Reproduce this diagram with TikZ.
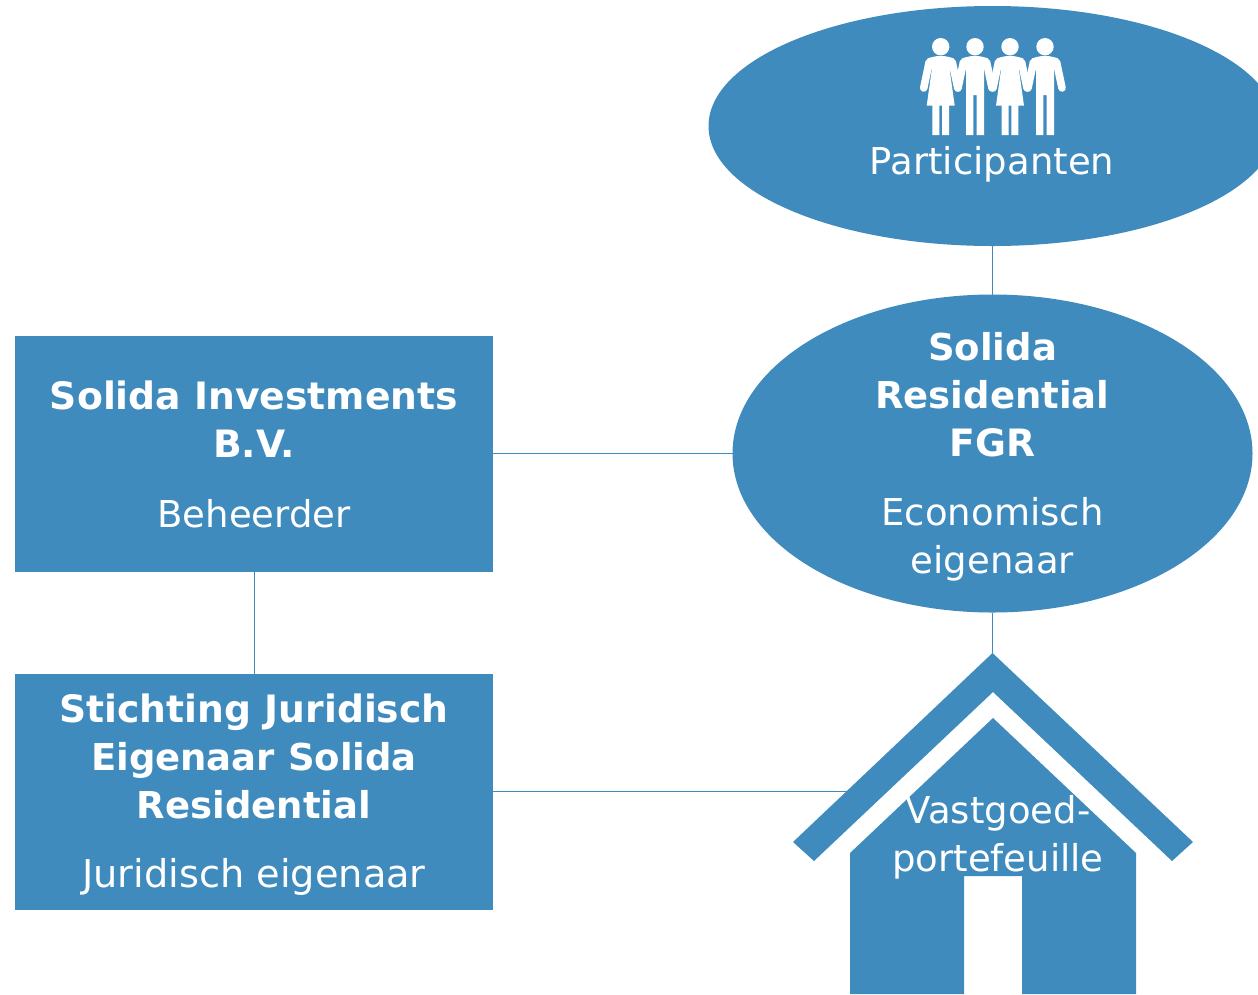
\documentclass[tikz,border=0pt]{standalone}
\usepackage{fontspec}
\setmainfont{DejaVu Sans}
\usetikzlibrary{shapes.geometric}
\definecolor{solblue}{RGB}{63,139,189}
\newcommand{\hd}[1]{{\fontsize{37.7}{48}\selectfont\bfseries #1}}
\newcommand{\hdn}[1]{{\fontsize{37}{48}\selectfont\bfseries #1}}
\tikzset{
  x=1pt,y=-1pt,
  shapefill/.style={fill=solblue,draw=none,inner sep=0pt,outer sep=0pt},
  ell/.style={shapefill,ellipse},
  boxnode/.style={shapefill,rectangle,minimum width=478pt},
  lbl/.style={text=white,align=center,inner sep=0pt,font=\fontsize{37}{48}\selectfont},
  link/.style={draw=solblue,line width=1pt},
  limb/.style={draw=white,line width=7.6pt,line cap=round,line join=round},
  woman/.pic={
    \fill[white] (0,46.7) circle (8.7);
    \draw[limb] (-10,61.5) -- (-11.5,62) -- (-17,88);
    \draw[limb] (10,61.5) -- (11.5,62) -- (17,88);
    \fill[white] (-13,58.5) to[out=20,in=160] (13,58.5) -- (9,70) -- (14,105.7) -- (8.3,105.7) -- (8.3,135) -- (1.3,135) -- (1.3,105.7) -- (-1.3,105.7) -- (-1.3,135) -- (-8.3,135) -- (-8.3,105.7) -- (-14,105.7) -- (-9,70) -- cycle;
  },
  man/.pic={
    \fill[white] (0,46.7) circle (8.7);
    \draw[limb] (-10,61.5) -- (-11.5,62) -- (-17,88);
    \draw[limb] (10,61.5) -- (11.5,62) -- (17,88);
    \fill[white] (-13,58.5) to[out=20,in=160] (13,58.5) -- (9,70) -- (9,135) -- (1.7,135) -- (1.7,95) -- (-1.7,95) -- (-1.7,135) -- (-9,135) -- (-9,70) -- cycle;
  },
}
\begin{document}
\begin{tikzpicture}
\useasboundingbox (0,0) rectangle (1258,994);
% shapes
\node[ell,minimum width=568pt,minimum height=240pt] (part) at (992.5,126) {};
\node[ell,minimum width=520pt,minimum height=318pt] (fgr) at (992.5,453.5) {};
\node[boxnode,minimum height=236pt] (inv) at (254,454) {};
\node[boxnode,minimum height=236pt] (jur) at (254,791.5) {};
\coordinate (roof) at (992.5,653);
\coordinate (roofleft) at (848,791.5);
% connectors
\draw[link] (part.south) -- (fgr.north);
\draw[link] (fgr.south) -- (roof);
\draw[link] (inv.east |- fgr.west) -- (fgr.west);
\draw[link] (inv.south) -- (jur.north);
\draw[link] (jur.east) -- (roofleft);
% house
\fill[solblue] (roof) -- (1193,842) -- (1172,861) -- (993,692) -- (814,861) -- (793,842) -- cycle;
\fill[solblue] (993,718) -- (1136,853) -- (1136,994) -- (1022,994) -- (1022,876) -- (964,876) -- (964,994) -- (850,994) -- (850,853) -- cycle;
% people
\pic at (940.7,0) {woman};
\pic at (975,0) {man};
\pic at (1010,0) {woman};
\pic at (1045,0) {man};
% labels
\node[lbl] (partlabel) at (992,164) {Participanten};
\node[lbl] (fgrlabel) at (992.5,457) {\hdn{Solida}\\\hdn{Residential}\\\hd{FGR}\\[21pt]Economisch\\eigenaar};
\node[lbl] (invlabel) at (254,454) {\hd{Solida Investments}\\\hd{B.V.}\\[22pt]Beheerder};
\node[lbl] (jurlabel) at (254,795) {\hd{Stichting Juridisch}\\\hdn{Eigenaar Solida}\\\hdn{Residential}\\[21pt]{\fontsize{38.3}{48}\selectfont Juridisch eigenaar}};
\node[lbl] (houselabel) at (998,837) {Vastgoed-\\portefeuille};
\end{tikzpicture}
\end{document}
